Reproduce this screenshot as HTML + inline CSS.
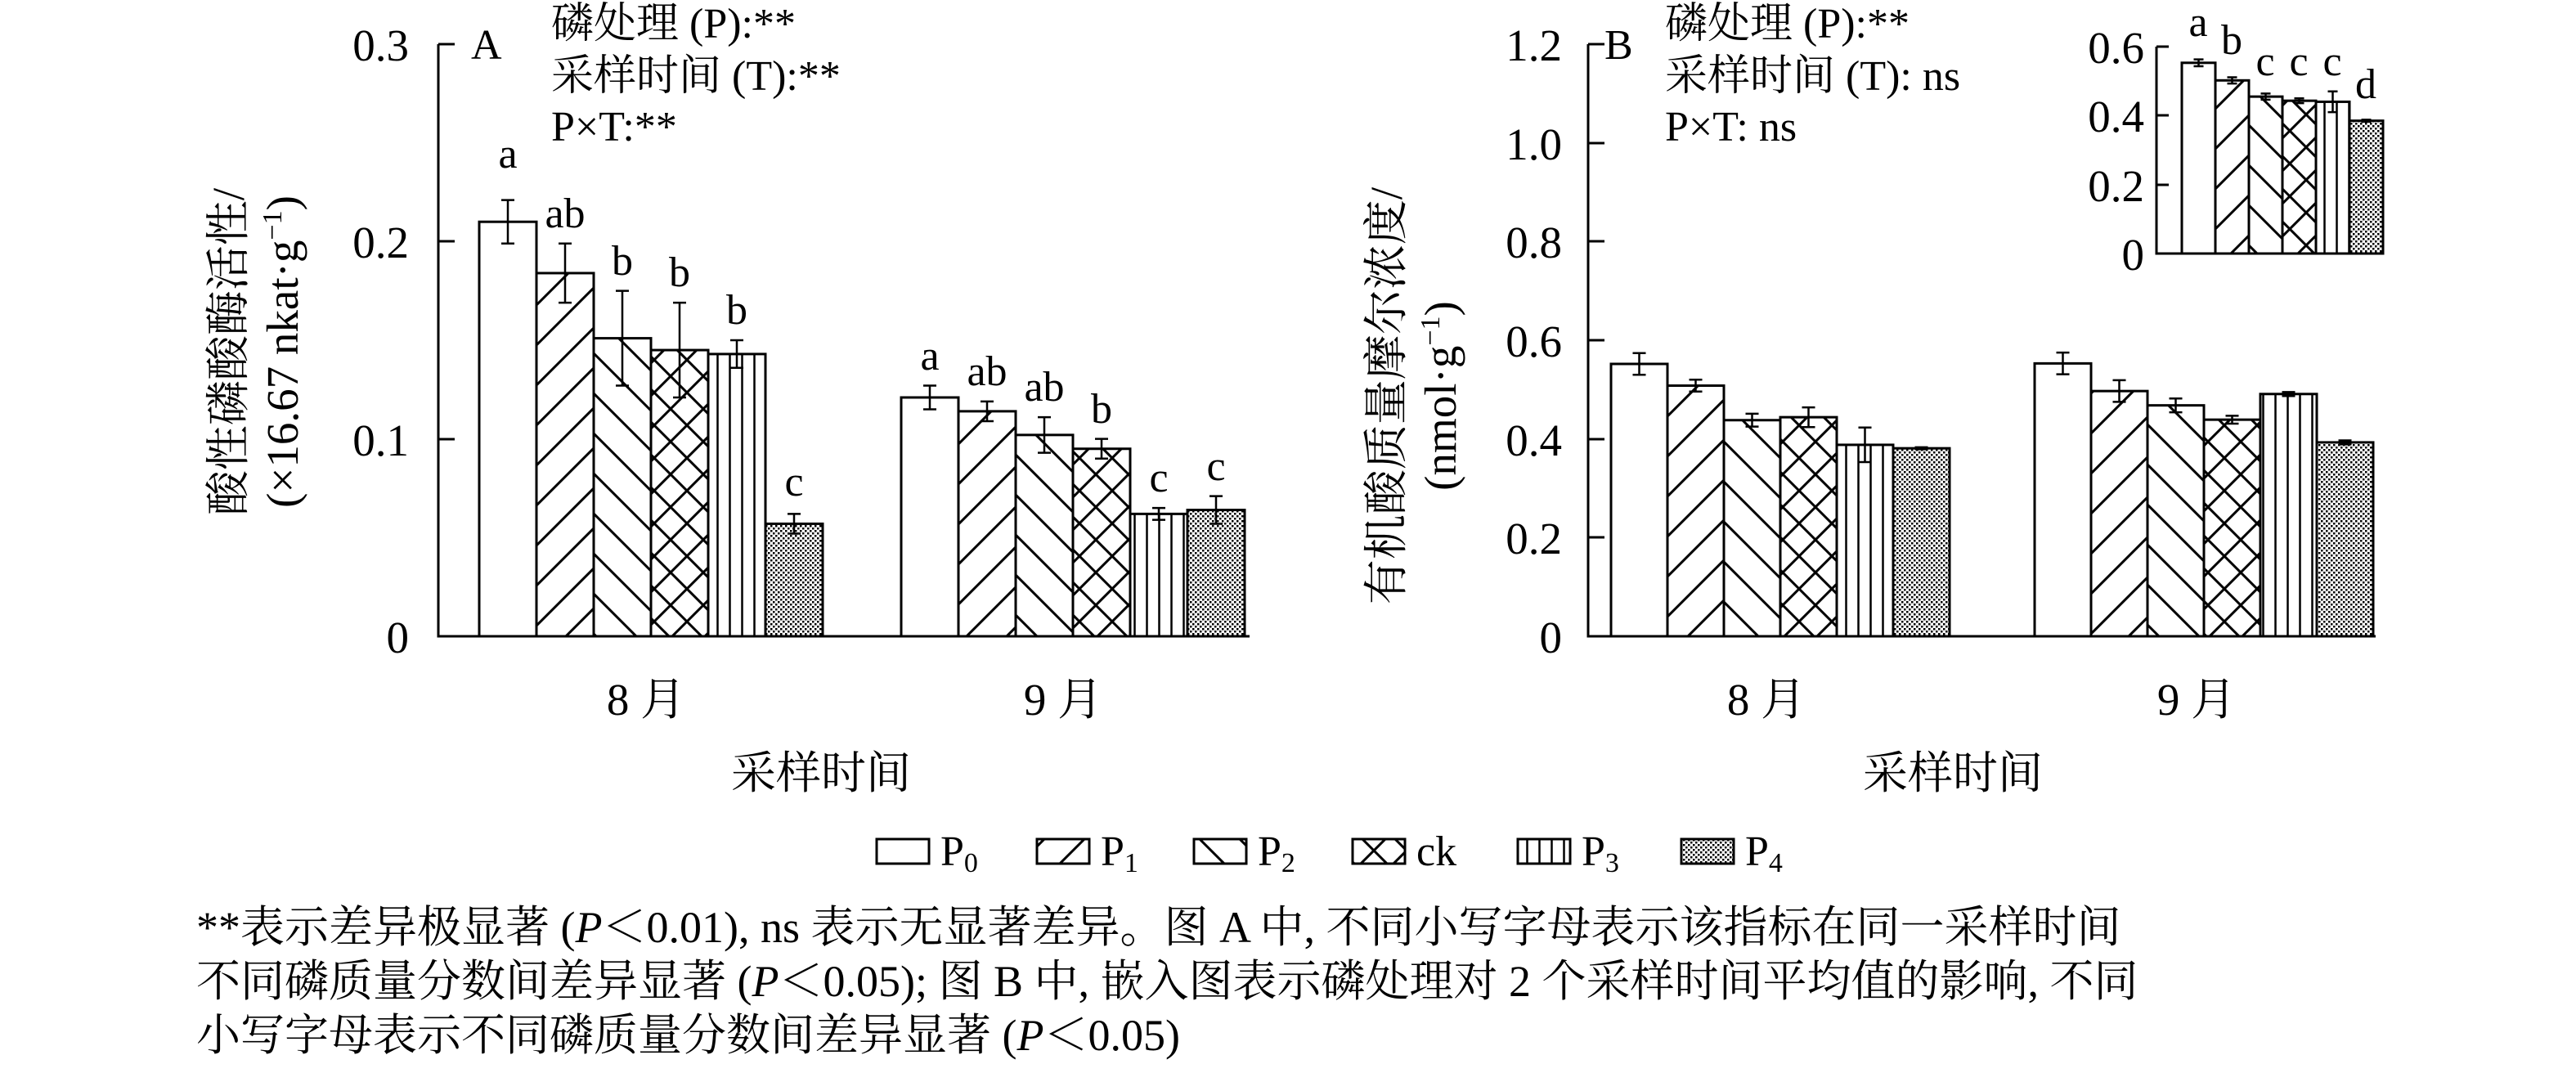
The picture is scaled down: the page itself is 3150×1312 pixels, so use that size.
<!DOCTYPE html>
<html><head><meta charset="utf-8">
<style>
html,body{margin:0;padding:0;background:#fff;}
svg{display:block;}
text{font-family:"Liberation Serif","Noto Serif CJK SC","Noto Sans CJK SC",serif;fill:#000;}
</style></head><body>
<svg id="s" width="3150" height="1312" viewBox="0 0 3150 1312" xmlns="http://www.w3.org/2000/svg">
<defs>
<pattern id="p1" patternUnits="userSpaceOnUse" width="49" height="49"><path d="M-5,54 L54,-5 M-5,5 L5,-5 M44,54 L54,44" stroke="#000" stroke-width="3"/></pattern>
<pattern id="p2" patternUnits="userSpaceOnUse" width="49" height="49"><path d="M-5,-5 L54,54 M44,-5 L54,5 M-5,44 L5,54" stroke="#000" stroke-width="3"/></pattern>
<pattern id="ck" patternUnits="userSpaceOnUse" width="40" height="40"><path d="M-5,45 L45,-5 M-5,-5 L45,45" stroke="#000" stroke-width="3"/></pattern>
<pattern id="p3" patternUnits="userSpaceOnUse" width="15" height="10"><path d="M7.5,0 V10" stroke="#000" stroke-width="2.5"/></pattern>
<pattern id="p4" patternUnits="userSpaceOnUse" width="6" height="6"><rect width="6" height="6" fill="#fff"/><rect width="2.5" height="2.5" fill="#000"/><rect x="3" y="3" width="2.5" height="2.5" fill="#000"/></pattern>
</defs>
<g id="bars"></g>
<g stroke="#000" stroke-width="3" fill="none">
<path d="M536,54 V778 H1528"/>
<path d="M536,54 H556 M536,295 H556 M536,537 H556"/>
<path d="M1942,54 V778 H2905"/>
<path d="M1942,54 H1962 M1942,175 H1962 M1942,295 H1962 M1942,416 H1962 M1942,537 H1962 M1942,657 H1962"/>
<path d="M2637,57 V310 H2914"/>
<path d="M2637,57 H2652 M2637,141 H2652 M2637,226 H2652"/>
</g>
<g font-size="55" text-anchor="end">
<text x="500" y="74">0.3</text><text x="500" y="315">0.2</text><text x="500" y="557">0.1</text><text x="500" y="798">0</text>
<text x="1910" y="74">1.2</text><text x="1910" y="195">1.0</text><text x="1910" y="315">0.8</text><text x="1910" y="436">0.6</text><text x="1910" y="557">0.4</text><text x="1910" y="677">0.2</text><text x="1910" y="798">0</text>
<text x="2622" y="77">0.6</text><text x="2622" y="161">0.4</text><text x="2622" y="246">0.2</text><text x="2622" y="330">0</text>
</g>
<g font-size="52">
<text x="576" y="72">A</text>
<text x="674" y="46">磷处理 (P):**</text>
<text x="674" y="110">采样时间 (T):**</text>
<text x="674" y="172">P×T:**</text>
<text x="1962" y="72">B</text>
<text x="2036" y="46">磷处理 (P):**</text>
<text x="2036" y="110">采样时间 (T): ns</text>
<text x="2036" y="172">P×T: ns</text>
</g>
<g font-size="52" text-anchor="middle">
<text x="621" y="205">a</text><text x="691" y="278">ab</text><text x="761" y="336">b</text><text x="831" y="350">b</text><text x="901" y="396">b</text><text x="971" y="606">c</text>
<text x="1137" y="452">a</text><text x="1207" y="471">ab</text><text x="1277" y="490">ab</text><text x="1347" y="517">b</text><text x="1417" y="601">c</text><text x="1487" y="587">c</text>
<text x="2688" y="44">a</text><text x="2729" y="66">b</text><text x="2770" y="92">c</text><text x="2811" y="92">c</text><text x="2852" y="92">c</text><text x="2893" y="120">d</text>
</g>
<g font-size="55" text-anchor="middle">
<text x="790" y="874">8 月</text><text x="1300" y="874">9 月</text>
<text x="1004" y="964">采样时间</text>
<text x="2160" y="874">8 月</text><text x="2686" y="874">9 月</text>
<text x="2388" y="964">采样时间</text>
<text transform="translate(298,430) rotate(-90)">酸性磷酸酶活性/</text>
<text transform="translate(364,430) rotate(-90)">(×16.67 nkat·g<tspan font-size="34" dy="-20">−1</tspan><tspan dy="20">)</tspan></text>
<text transform="translate(1714,484) rotate(-90)">有机酸质量摩尔浓度/</text>
<text transform="translate(1780,484) rotate(-90)">(nmol·g<tspan font-size="34" dy="-20">−1</tspan><tspan dy="20">)</tspan></text>
</g>
<g stroke="#000" stroke-width="3">
<rect x="1072" y="1026" width="64" height="30" fill="#fff"/>
<rect x="1268" y="1026" width="64" height="30" fill="url(#p1)"/>
<rect x="1460" y="1026" width="64" height="30" fill="url(#p2)"/>
<rect x="1654" y="1026" width="64" height="30" fill="url(#ck)"/>
<rect x="1856" y="1026" width="64" height="30" fill="url(#p3)"/>
<rect x="2056" y="1026" width="64" height="30" fill="url(#p4)"/>
</g>
<g font-size="52">
<text x="1150" y="1058">P<tspan font-size="34" dy="8">0</tspan></text>
<text x="1346" y="1058">P<tspan font-size="34" dy="8">1</tspan></text>
<text x="1538" y="1058">P<tspan font-size="34" dy="8">2</tspan></text>
<text x="1732" y="1058">ck</text>
<text x="1934" y="1058">P<tspan font-size="34" dy="8">3</tspan></text>
<text x="2134" y="1058">P<tspan font-size="34" dy="8">4</tspan></text>
</g>
<g font-size="54">
<text x="240" y="1152">**表示差异极显著 (<tspan font-style="italic">P</tspan>＜0.01), ns 表示无显著差异。图 A 中, 不同小写字母表示该指标在同一采样时间</text>
<text x="240" y="1218">不同磷质量分数间差异显著 (<tspan font-style="italic">P</tspan>＜0.05); 图 B 中, 嵌入图表示磷处理对 2 个采样时间平均值的影响, 不同</text>
<text x="240" y="1284">小写字母表示不同磷质量分数间差异显著 (<tspan font-style="italic">P</tspan>＜0.05)</text>
</g>
</svg>
<script>
var fills=['#fff','url(#p1)','url(#p2)','url(#ck)','url(#p3)','url(#p4)'];
var g=document.getElementById('bars'),NS='http://www.w3.org/2000/svg';
function bar(x,w,top,bot,err,f){
 var r=document.createElementNS(NS,'rect');
 r.setAttribute('x',x);r.setAttribute('y',top);r.setAttribute('width',w);r.setAttribute('height',bot-top);
 r.setAttribute('fill',f);r.setAttribute('stroke','#000');r.setAttribute('stroke-width','3');g.appendChild(r);
 var c=x+w/2,cw=w>50?8:6;
 var p=document.createElementNS(NS,'path');
 p.setAttribute('d','M'+c+','+(top-err)+'V'+(top+err)+'M'+(c-cw)+','+(top-err)+'H'+(c+cw)+'M'+(c-cw)+','+(top+err)+'H'+(c+cw));
 p.setAttribute('stroke','#000');p.setAttribute('stroke-width','2.5');p.setAttribute('fill','none');g.appendChild(p);
}
function grp(x0,w,vals,errs,y0,k){for(var i=0;i<6;i++)bar(x0+i*w,w,y0-vals[i]*k,y0,errs[i]*k,fills[i]);}
var kA=2413.3;
grp(586,70,[.210,.184,.151,.145,.143,.057],[.011,.015,.024,.024,.007,.005],778,kA);
grp(1102,70,[.121,.114,.102,.095,.062,.064],[.006,.005,.009,.005,.003,.007],778,kA);
var kB=603.3;
grp(1970,69,[.552,.508,.438,.444,.388,.381],[.022,.012,.013,.02,.035,.002],778,kB);
grp(2488,69,[.553,.497,.468,.439,.491,.393],[.022,.022,.014,.008,.004,.004],778,kB);
grp(2668,41,[.553,.502,.455,.443,.44,.385],[.01,.009,.009,.007,.03,.003],310,421.7);
</script>
</body></html>
